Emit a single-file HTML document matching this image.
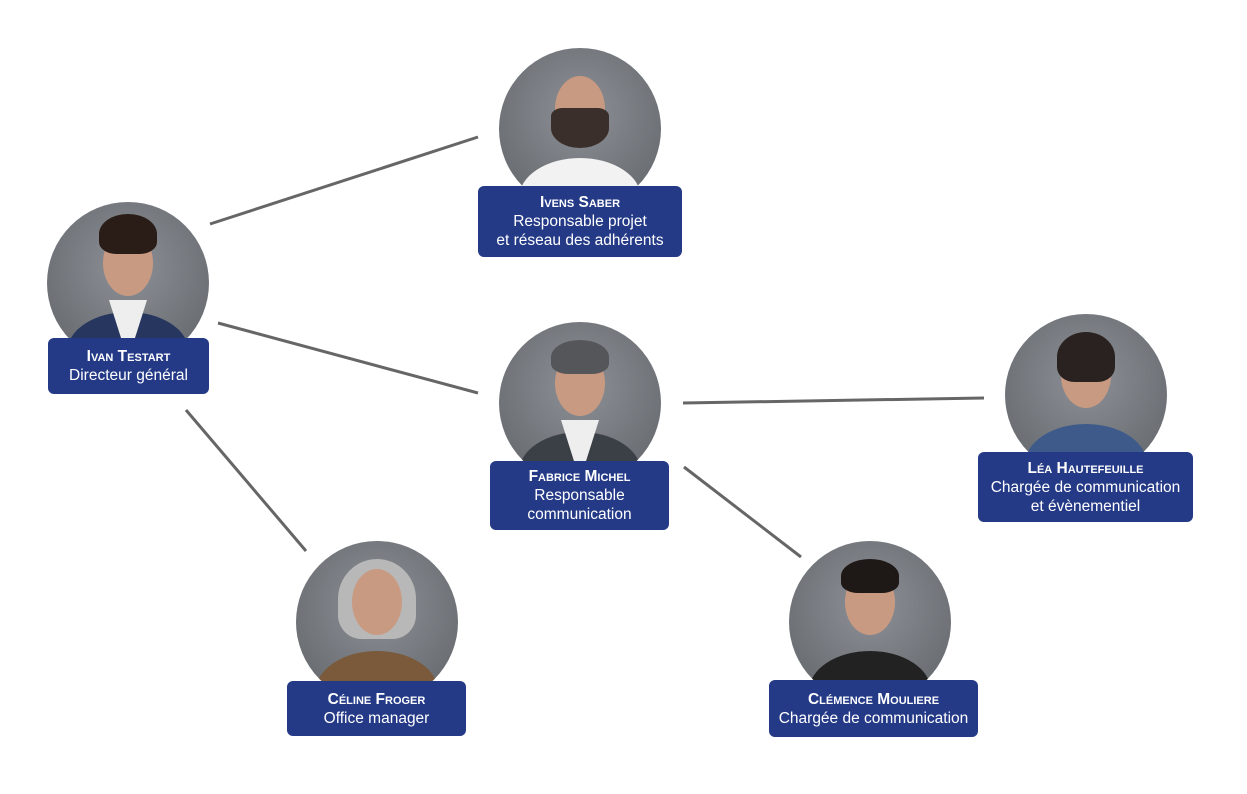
<!DOCTYPE html>
<html><head><meta charset="utf-8"><style>
body{margin:0;width:1247px;height:794px;background:#fff;position:relative;overflow:hidden;font-family:"Liberation Sans",sans-serif}
.c{position:absolute;width:162px;height:162px;border-radius:50%;overflow:hidden;background:radial-gradient(circle at 50% 40%,#8d9197,#6a6e73 75%)}
.c .h{position:absolute;left:56px;top:28px;width:50px;height:66px;border-radius:50%;background:#c99a82}
.c .hair{position:absolute;left:52px;top:18px;width:58px;height:34px;border-radius:50% 50% 30% 30%;background:#2e2724}
.c .b{position:absolute;left:20px;top:110px;width:122px;height:80px;border-radius:50% 50% 0 0;background:#2a3550}
.c .s{position:absolute;left:62px;top:98px;width:38px;height:60px;background:#eee;clip-path:polygon(0 0,100% 0,50% 100%)}
.l{position:absolute;background:#243a87;color:#fff;border-radius:6px;text-align:center;font-size:15.5px;line-height:19px;display:flex;flex-direction:column;justify-content:center}
.l b{font-variant:small-caps;font-weight:bold}
svg{position:absolute;left:0;top:0}
</style></head><body>
<svg width="1247" height="794"><g stroke="#666" stroke-width="3">
<line x1="210" y1="224" x2="478" y2="137"/>
<line x1="218" y1="323" x2="478" y2="393"/>
<line x1="186" y1="410" x2="306" y2="551"/>
<line x1="683" y1="403" x2="984" y2="398"/>
<line x1="684" y1="467" x2="801" y2="557"/></g></svg>

<div class="c" style="left:47px;top:202px"><div class="b" style="background:#27365f"></div><div class="s"></div><div class="h"></div><div class="hair" style="top:12px;height:40px;background:#2a1d17"></div></div>
<div class="l" style="left:48px;top:338px;width:161px;height:56px"><b>Ivan Testart</b><span>Directeur général</span></div>

<div class="c" style="left:499px;top:48px"><div class="b" style="background:#f2f2f2"></div><div class="h"></div><div class="hair" style="top:60px;height:40px;border-radius:20% 20% 50% 50%;background:#3a2f2a"></div></div>
<div class="l" style="left:478px;top:186px;width:204px;height:71px"><b>Ivens Saber</b><span>Responsable projet</span><span>et réseau des adhérents</span></div>

<div class="c" style="left:499px;top:322px"><div class="b" style="background:#3b3f46"></div><div class="s"></div><div class="h"></div><div class="hair" style="background:#55565a"></div></div>
<div class="l" style="left:490px;top:461px;width:179px;height:69px"><b>Fabrice Michel</b><span>Responsable</span><span>communication</span></div>

<div class="c" style="left:1005px;top:314px"><div class="b" style="background:#3d5a8a"></div><div class="h"></div><div class="hair" style="height:50px;background:#2a2220"></div></div>
<div class="l" style="left:978px;top:452px;width:215px;height:70px"><b>Léa Hautefeuille</b><span>Chargée de communication</span><span>et évènementiel</span></div>

<div class="c" style="left:296px;top:541px"><div class="b" style="background:#7a5a3a"></div><div class="h"></div><div class="hair" style="left:42px;width:78px;height:80px;background:#b8b8b8;z-index:0"></div><div class="h" style="z-index:1"></div></div>
<div class="l" style="left:287px;top:681px;width:179px;height:55px"><b>Céline Froger</b><span>Office manager</span></div>

<div class="c" style="left:789px;top:541px"><div class="b" style="background:#222"></div><div class="h"></div><div class="hair" style="background:#1e1816"></div></div>
<div class="l" style="left:769px;top:680px;width:209px;height:57px"><b>Clémence Mouliere</b><span>Chargée de communication</span></div>
</body></html>
